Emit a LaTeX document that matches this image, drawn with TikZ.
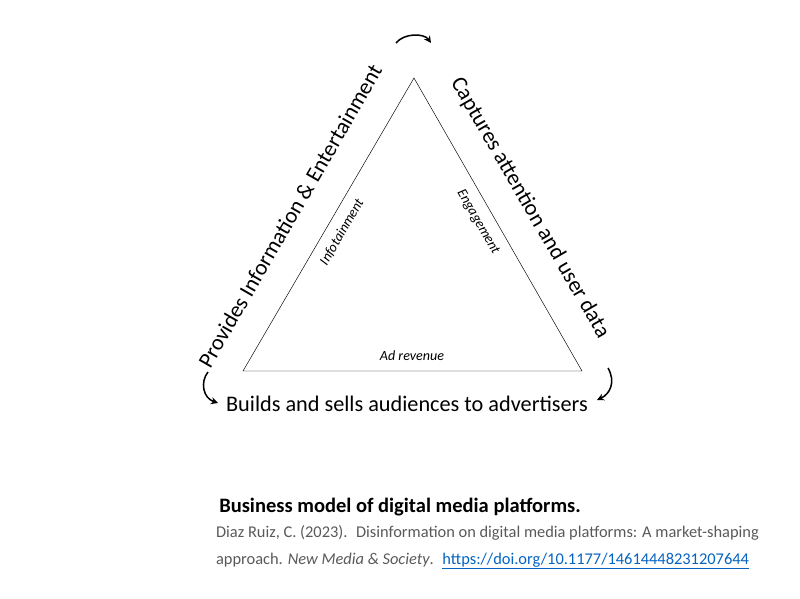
\documentclass[tikz,border=0pt]{standalone}
\usepackage{fontspec}
\setmainfont{Carlito}
\usetikzlibrary{arrows.meta}
\definecolor{captiongray}{RGB}{89,89,89}
\definecolor{linkblue}{RGB}{5,99,193}
\begin{document}
\begin{tikzpicture}[x=0.03cm,y=-0.03cm,
    side label/.style={font=\fontsize{19}{22}\selectfont},
    edge label/.style={font=\fontsize{12}{14}\selectfont\itshape},
    turn/.style={line width=1.3pt,-{Stealth[length=6pt,width=6pt]}}]
    \useasboundingbox (0,0) rectangle (800,599);

      \coordinate (A) at (414,78);
      \coordinate (B) at (243,371);
      \coordinate (C) at (582,371);
      \draw (A) -- (B) -- (C) -- cycle;

      \node[side label, rotate=60] (provides) at (290,216) {Provides Information \& Entertainment};
      \node[side label, rotate=-60] (captures) at (530,208) {Captures attention and user data};
      \node[side label] (builds) at (407,404) {Builds and sells audiences to advertisers};

      \node[edge label, rotate=60] (info) at (342,232) {Infotainment};
      \node[edge label, rotate=-60] (engage) at (478,222) {Engagement};
      \node[edge label] (ad) at (412,356) {Ad revenue};

      % turning arrows at the corners
      \coordinate (t1) at (396,43);
      \coordinate (t2) at (431,43);
      \draw[turn] (t1) .. controls (404,33) and (424,33) .. (t2);
      \coordinate (l1) at (208,372);
      \coordinate (l2) at (218,403);
      \draw[turn] (l1) .. controls (200,382) and (203,398) .. (l2);
      \coordinate (r1) at (608,368);
      \coordinate (r2) at (597,400);
      \draw[turn] (r1) .. controls (616,382) and (610,394) .. (r2);

      \node[font=\fontsize{17.5}{20}\selectfont\bfseries] (title) at (400,507) {Business model of digital media platforms.};
      \node[anchor=west, text=captiongray, font=\fontsize{14}{17}\selectfont] (ref1) at (212,533) {Diaz Ruiz, C. (2023).~ Disinformation on digital media platforms: A market-shaping};
      \node[anchor=west, text=captiongray, font=\fontsize{14}{17}\selectfont] (ref2) at (212,561) {approach. \textit{New Media \& Society}.~ \textcolor{linkblue}{\underline{https://doi.org/10.1177/14614448231207644}}};
\end{tikzpicture}
\end{document}
